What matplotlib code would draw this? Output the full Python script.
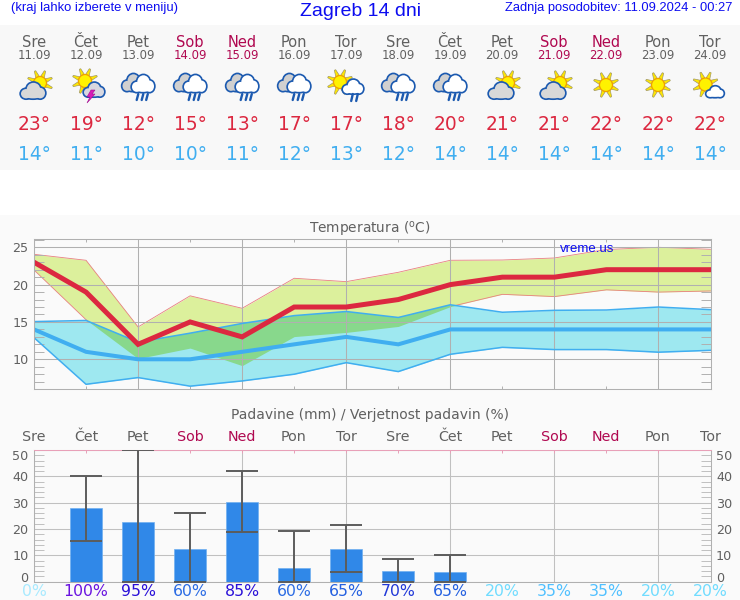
import numpy as np
import matplotlib
matplotlib.use("Agg")
import matplotlib.pyplot as plt
from matplotlib.patches import Circle, Ellipse, Polygon, Rectangle

days = ["Sre", "Čet", "Pet", "Sob", "Ned", "Pon", "Tor", "Sre", "Čet", "Pet", "Sob", "Ned", "Pon", "Tor"]
dates = ["11.09", "12.09", "13.09", "14.09", "15.09", "16.09", "17.09", "18.09", "19.09", "20.09", "21.09", "22.09", "23.09", "24.09"]
icons = ["partly", "storm", "rain", "rain", "rain", "rain", "sunrain", "rain", "rain", "partly", "partly", "sun", "sun", "suncloud"]

t_high = [23, 19, 12, 15, 13, 17, 17, 18, 20, 21, 21, 22, 22, 22]
t_low = [14, 11, 10, 10, 11, 12, 13, 12, 14, 14, 14, 14, 14, 14]
high_up = [24.06, 23.26, 14.33, 18.5, 16.83, 20.85, 20.4, 21.65, 23.26, 23.3, 23.57, 24.7, 25.0, 24.73]
high_down = [21.96, 15.3, 10.1, 11.5, 9.15, 13.04, 13.6, 14.4, 17.05, 18.7, 18.4, 19.3, 19.0, 19.15]
low_up = [15.05, 15.2, 12.3, 13.5, 14.8, 15.85, 16.4, 15.6, 17.3, 16.3, 16.56, 16.6, 17.0, 16.65]
low_down = [12.9, 6.65, 7.55, 6.4, 7.1, 8.0, 9.55, 8.35, 10.67, 11.6, 11.3, 11.3, 10.95, 11.2]

rain = [0, 27.8, 22.8, 12.4, 30.4, 5.3, 12.5, 4.05, 3.5, 0, 0, 0, 0, 0]
rain_min = [0, 15.6, 0, 0, 18.9, 0, 3.5, 0, 0, 0, 0, 0, 0, 0]
rain_max = [0, 40.1, 50, 26, 41.9, 19.4, 21.6, 8.6, 10.1, 0, 0, 0, 0, 0]
prob = [0, 100, 95, 60, 85, 60, 65, 70, 65, 20, 35, 35, 20, 20]
prob_colors = ["#a8eaff", "#6a14e0", "#2a10d8", "#2c6ce4", "#2a10d8", "#2c6ce4", "#2460e0",
               "#2038d8", "#2460e0", "#70dcff", "#50c0ff", "#50c0ff", "#70dcff", "#70dcff"]

GREY = "#606060"
WEEKEND = "#b00850"
RED = "#dc2840"
BLUE = "#40aef0"
LINE = "#b0b0b0"
BLUETXT = "#0c0cf0"
W, H = 740, 600
x = np.arange(14)


def day_color(d):
    return WEEKEND if d in ("Sob", "Ned") else GREY


def axes_px(x0, y0, x1, y1):
    return fig.add_axes([x0 / W, 1 - y1 / H, (x1 - x0) / W, (y1 - y0) / H], facecolor="#fafafa")


def sun(a, cx, cy, r=6.5, ray=13):
    for k in range(8):
        ang = np.pi / 8 + k * np.pi / 4
        c, s = np.cos(ang), np.sin(ang)
        a.add_patch(Polygon([(cx + ray * c - 0.7 * s, cy + ray * s + 0.7 * c),
                             (cx + ray * c + 0.7 * s, cy + ray * s - 0.7 * c),
                             (cx + r * c + 1.9 * s, cy + r * s - 1.9 * c),
                             (cx + r * c - 1.9 * s, cy + r * s + 1.9 * c)],
                            fc="#ffe800", ec="#a09868", lw=0.5))
    a.add_patch(Circle((cx, cy), r, fc="#fff200", ec="#f0a000", lw=0.9))


def cloud(a, cx, cy, w, h, fill):
    # three lobes and a flat base, outline first then the fill on top
    lobes = [(-0.29, 0.18, 0.42, 0.62), (0.02, -0.12, 0.56, 0.85), (0.3, 0.14, 0.4, 0.7), (0, 0.27, 0.8, 0.44)]
    for pad, col in ((3.4, "#1c5ab0"), (0, fill)):
        for lx, ly, lw_, lh in lobes:
            a.add_patch(Ellipse((cx + lx * w, cy + ly * h), lw_ * w + pad, lh * h + pad, fc=col, ec="none"))


def drops(a, xs, y0, y1):
    for xx in xs:
        a.plot([xx + 0.8, xx - 0.8], [y0, y1], color="#1c5ab0", lw=1.7, solid_capstyle="round")


def draw_icon(a, kind, cx):
    if kind == "partly":
        sun(a, cx + 6, 83)
        cloud(a, cx - 1, 91, 24, 15, "#d8d8d8")
    elif kind == "storm":
        sun(a, cx - 1, 81)
        cloud(a, cx + 8, 90, 20, 13, "#d8d8e0")
        a.add_patch(Polygon([(cx + 5, 90), (cx + 1, 97), (cx + 4, 97), (cx + 1, 103), (cx + 9, 94), (cx + 6, 94), (cx + 9, 90)],
                            fc="#d81cb8", ec="#a01090", lw=0.4, zorder=5))
    elif kind == "rain":
        cloud(a, cx - 5, 83, 21, 16, "#d0d0d0")
        cloud(a, cx + 5, 84, 22, 16, "#ffffff")
        drops(a, [cx - 0.5, cx + 4.5, cx + 9], 94, 100)
    elif kind == "sunrain":
        sun(a, cx - 6, 82)
        cloud(a, cx + 7, 87, 20, 13, "#ffffff")
        drops(a, [cx + 6, cx + 11], 94, 101)
    elif kind == "sun":
        sun(a, cx, 85)
    elif kind == "suncloud":
        sun(a, cx - 4.5, 84.5)
        cloud(a, cx + 5, 92, 17, 10, "#ffffff")


fig = plt.figure(figsize=(W / 100, H / 100), dpi=100, facecolor="white")

# background stripes
bg = fig.add_axes([0, 0, 1, 1], zorder=0)
bg.set_xlim(0, W)
bg.set_ylim(H, 0)
bg.axis("off")
bg.add_patch(Rectangle((0, 25), W, 145, fc="#f8f8f8", ec="none"))
bg.add_patch(Rectangle((0, 215), W, 385, fc="#fafafa", ec="none"))

# temperature chart
ax = axes_px(34, 239.3, 710.5, 389)
ax.set_zorder(1)
ax.set_xlim(0, 13)
ax.set_ylim(6.02, 26.07)
ax.fill_between(x, high_down, high_up, color="#dcf09c", lw=0, zorder=0.8)
# red edges go under the blue band so they vanish where the bands overlap
ax.plot(x, high_up, color="#e88080", lw=0.6, zorder=0.9)
ax.plot(x, high_down, color="#e88080", lw=0.6, zorder=0.9)
band_low = ax.fill_between(x, low_down, low_up, color="#9ee8f0", lw=0, zorder=1)
both = ax.fill_between(x, high_down, high_up, color="#88d88c", lw=0, zorder=1.1)
both.set_clip_path(band_low.get_paths()[0], ax.transData)
ax.plot(x, low_up, color=BLUE, lw=1.1)
ax.plot(x, low_down, color=BLUE, lw=1.1)
ax.plot(x, t_low, color=BLUE, lw=2.9, solid_joinstyle="miter")
ax.plot(x, t_high, color=RED, lw=3.6, solid_joinstyle="miter")
ax.set_xticks(x[::2])
ax.set_xticks(x[1::2], minor=True)
ax.set_yticks([10, 15, 20, 25])
ax.set_yticks(np.arange(7, 27), minor=True)
ax.grid(True, which="major", color=LINE, lw=0.75)
ax.tick_params(axis="x", which="both", direction="in", top=True, bottom=True, length=2, width=0.7, color=LINE, labelbottom=False)
ax.tick_params(axis="y", which="major", length=0, labelsize=9.2, labelcolor=GREY, pad=4)
ax.tick_params(axis="y", which="minor", direction="in", left=True, right=True, length=7.5, color=LINE, width=0.7)
for s in ax.spines.values():
    s.set_color(LINE)
    s.set_linewidth(0.75)

# rain chart
ax2 = axes_px(34, 449.7, 710.5, 581.7)
ax2.set_zorder(1)
ax2.set_xlim(0, 13)
ax2.set_ylim(0, 50.1)
rain_arr, lo, hi = np.array(rain), np.array(rain_min), np.array(rain_max)
wet = rain_arr > 0
ax2.bar(x[wet], rain_arr[wet], width=0.61, color="#3088e8", edgecolor="#70b0f0", lw=0.5, zorder=2)
ax2.errorbar(x[wet], rain_arr[wet], yerr=[rain_arr[wet] - lo[wet], hi[wet] - rain_arr[wet]], fmt="none",
             ecolor="#5c5c5c", elinewidth=1.4, capsize=11.5, capthick=1.4, zorder=3)
ax2.set_xticks(x[::2])
ax2.set_xticks(x[1::2], minor=True)
ax2.set_yticks([0, 10, 20, 30, 40, 50])
ax2.set_yticks(np.arange(2, 50, 2), minor=True)
ax2.grid(True, which="major", color="#c0c0c0", lw=0.75)
ax2.tick_params(axis="x", which="both", direction="in", top=True, bottom=False, length=2, width=0.7, color="#e8a0b8", labelbottom=False)
ax2.tick_params(axis="y", which="major", length=0, labelsize=9.2, labelcolor=GREY, pad=4, labelleft=True, labelright=True)
ax2.tick_params(axis="y", which="minor", direction="in", left=True, right=True, length=7.5, color="#c0c0c0", width=0.7)
for s in ax2.spines.values():
    s.set_color(LINE)
    s.set_linewidth(0.75)
ax2.spines["top"].set_color("#e8a0b8")
for lab in ax2.get_yticklabels():
    if lab.get_text() == "0":
        lab.set_verticalalignment("baseline")
    if lab.get_text() == "50":
        lab.set_verticalalignment("top")

# everything that is set in pixels goes on a clear axes on top
top = fig.add_axes([0, 0, 1, 1], zorder=2)
top.set_xlim(0, W)
top.set_ylim(H, 0)
top.axis("off")

sans = "Liberation Sans"
top.text(11, 8.5, "(kraj lahko izberete v meniju)", color=BLUETXT, family=sans, fontsize=9.35, ha="left", va="center")
top.text(361, 11, "Zagreb 14 dni", color=BLUETXT, family=sans, fontsize=14, ha="center", va="center")
top.text(732, 8.5, "Zadnja posodobitev: 11.09.2024 - 00:27", color=BLUETXT, family=sans, fontsize=9.3, ha="right", va="center")
top.text(587.5, 249, "vreme.us", color=BLUETXT, family=sans, fontsize=9.5, ha="center", va="center")
top.text(370, 229, r"Temperatura ($^{\mathrm{o}}$C)", color=GREY, fontsize=9.9, ha="center", va="center")
top.text(370, 415, "Padavine (mm) / Verjetnost padavin (%)", color=GREY, fontsize=10, ha="center", va="center")

for i in range(14):
    cx = 34 + i * 52
    col = day_color(days[i])
    top.text(cx, 42.5, days[i], color=col, fontsize=10.5, ha="center", va="center")
    top.text(cx, 55.5, dates[i], color=col, fontsize=8.4, ha="center", va="center")
    draw_icon(top, icons[i], cx)
    top.text(cx, 125, "%d°" % t_high[i], color=RED, fontsize=13.4, ha="center", va="center")
    top.text(cx, 155, "%d°" % t_low[i], color=BLUE, fontsize=13.4, ha="center", va="center")
    top.text(cx, 437, days[i], color=col, fontsize=10.3, ha="center", va="center")
    top.text(cx, 591, "%d%%" % prob[i], color=prob_colors[i], fontsize=11.3, ha="center", va="center")

fig.savefig("out.png", dpi=100)
